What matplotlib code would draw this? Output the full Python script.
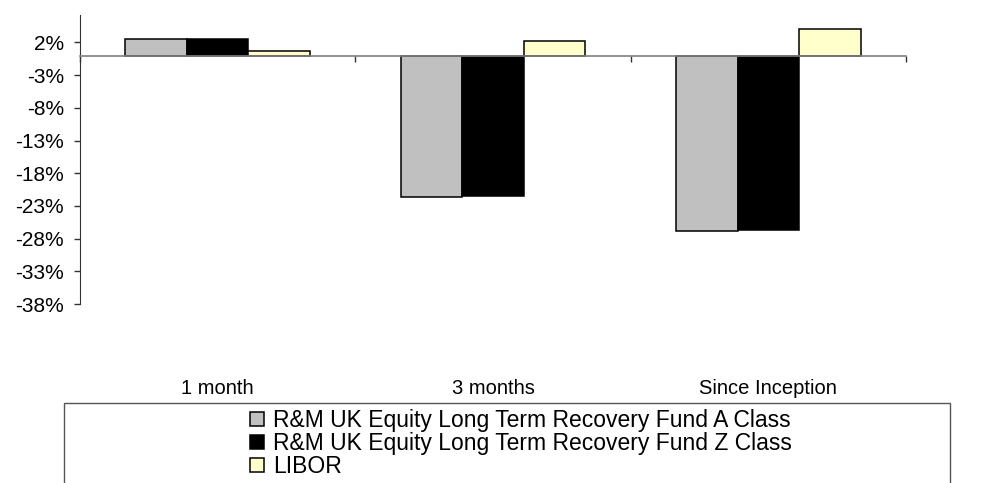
import numpy as np
import matplotlib.pyplot as plt
from matplotlib.patches import Rectangle
from matplotlib.ticker import FuncFormatter
import matplotlib.transforms as mtransforms

plt.rcParams['font.family'] = ['Liberation Sans', 'DejaVu Sans']

categories = ['1 month', '3 months', 'Since Inception']
fund_a = [2.45, -21.7, -26.9]
fund_z = [2.55, -21.45, -26.65]
libor = [0.7, 2.2, 4.0]
series_names = ['R&M UK Equity Long Term Recovery Fund A Class',
                'R&M UK Equity Long Term Recovery Fund Z Class',
                'LIBOR']
series_colors = ['#C0C0C0', '#000000', '#FFFFCC']
yticks = [2, -3, -8, -13, -18, -23, -28, -33, -38]

fig = plt.figure(figsize=(9.88, 4.83), dpi=100)
ax = fig.add_axes([0.081, 0.3706, 0.836, 0.5984])

x = np.arange(len(categories))
w = 0.2236
for i, (vals, name, col) in enumerate(zip([fund_a, fund_z, libor], series_names, series_colors)):
    ax.bar(x + (i - 1) * w, vals, width=w, color=col, edgecolor='black',
           linewidth=1.1, label=name, zorder=3)

ax.set_xlim(-0.5, 2.5)
ax.set_ylim(-38, 6.2)

for s in ['top', 'right']:
    ax.spines[s].set_visible(False)
ax.spines['left'].set_color('#333333')
ax.spines['left'].set_bounds(-38, 6.2)
ax.spines['bottom'].set_position(('data', 0))
ax.spines['bottom'].set_color('#808080')
ax.spines['bottom'].set_linewidth(1.2)
ax.spines['bottom'].set_zorder(4)

ax.set_yticks(yticks)
ax.yaxis.set_major_formatter(FuncFormatter(lambda v, p: '%d%%' % v))
ax.tick_params(axis='y', direction='out', length=4.5, width=1, color='#333333',
               labelsize=15, pad=7)
ax.set_xticks([-0.5, 0.5, 1.5, 2.5])
ax.set_xticklabels([])
ax.tick_params(axis='x', direction='out', length=4.5, width=1, color='#333333')

trans = mtransforms.blended_transform_factory(ax.transData, ax.transAxes)
for i, c in enumerate(categories):
    ax.text(i, -0.294, c, transform=trans, ha='center', va='center', fontsize=14.5)

# legend box
fig.patches.append(Rectangle((64 / 988, -0.05), (950 - 64) / 988, 0.1656 + 0.05,
                             transform=fig.transFigure, fill=False,
                             edgecolor='#555555', linewidth=1.0))

handles, labels = ax.get_legend_handles_labels()
leg = fig.legend(handles, labels, loc='upper left',
                 bbox_to_anchor=(250 / 988, 1 - 409 / 483),
                 frameon=False, fontsize=16.5, borderpad=0, borderaxespad=0,
                 handlelength=0.6, handleheight=0.58, handletextpad=0.4,
                 labelspacing=0.0)

fig.savefig('out.png', dpi=100)
